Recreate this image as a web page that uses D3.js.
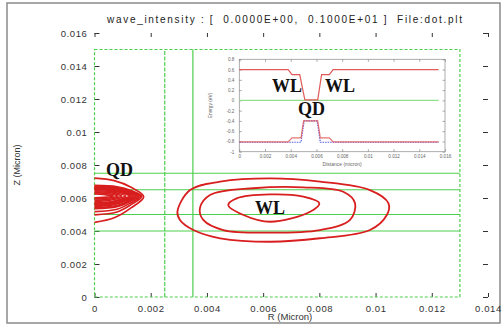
<!DOCTYPE html>
<html>
<head>
<meta charset="utf-8">
<script src="https://cdn.jsdelivr.net/npm/d3@7"></script>
<style>
  html, body { margin: 0; padding: 0; background: #fff; }
  svg { display: block; }
  text { font-family: "Liberation Sans", Arial, sans-serif; }
</style>
</head>
<body>
<svg id="svg" width="504" height="329"></svg>
<script>
// ---- data (micron units) ----
const xTicks = [0, 0.002, 0.004, 0.006, 0.008, 0.01, 0.012, 0.014];
const yTicks = [0, 0.002, 0.004, 0.006, 0.008, 0.01, 0.012, 0.014, 0.016];

// mesh boundaries (green)
const meshBox = [0, 0, 0.013, 0.015];            // x0, y0, x1, y1
const meshX = [0.0025, 0.0035];
const meshY = [0.004, 0.005, 0.0065, 0.0075];

// WL contours (closed)
const wlOuter = [[0.00295,0.00517],[0.00340,0.00648],[0.00447,0.00699],[0.00625,0.00719],[0.00802,0.00699],[0.00980,0.00648],[0.01046,0.00568],[0.01040,0.00497],[0.00980,0.00406],[0.00802,0.00356],[0.00625,0.00335],[0.00447,0.00356],[0.00352,0.00406],[0.00304,0.00467]];
const wlMiddle = [[0.00375,0.00538],[0.00411,0.00618],[0.00565,0.00659],[0.00743,0.00665],[0.00885,0.00638],[0.00927,0.00568],[0.00909,0.00467],[0.00802,0.00406],[0.00625,0.00390],[0.00458,0.00406],[0.00387,0.00467]];
const wlInner = [[0.00476,0.00558],[0.00506,0.00598],[0.00625,0.00622],[0.00743,0.00608],[0.00800,0.00568],[0.00767,0.00517],[0.00625,0.00456],[0.00530,0.00497]];

// QD contours (open, cut at r = 0)
const qdContours = [
  [[0,0.00720],[0.0007,0.00705],[0.0013,0.00665],[0.00175,0.00608],[0.0013,0.00540],[0.0007,0.00480],[0,0.00452]],
  [[0,0.00676],[0.0008,0.00668],[0.0013,0.00645],[0.00168,0.00610],[0.0013,0.00560],[0.0008,0.00515],[0,0.00498]],
  [[0,0.00672],[0.0008,0.00664],[0.00128,0.00642],[0.00163,0.00611],[0.00128,0.00570],[0.0008,0.00532],[0,0.00518]],
  [[0,0.00668],[0.0008,0.00660],[0.00125,0.00640],[0.00158,0.00612],[0.00125,0.00578],[0.0008,0.00548],[0,0.00535]],
  [[0,0.00665],[0.0008,0.00658],[0.0012,0.00639],[0.00153,0.00612],[0.0012,0.00582],[0.0008,0.00554],[0,0.00542]],
  [[0,0.00662],[0.0007,0.00656],[0.00115,0.00638],[0.00148,0.00612],[0.00115,0.00585],[0.0007,0.00560],[0,0.00548]],
  [[0,0.00659],[0.0007,0.00653],[0.0011,0.00636],[0.00142,0.00612],[0.0011,0.00588],[0.0007,0.00565],[0,0.00554]],
  [[0,0.00656],[0.0007,0.00650],[0.00105,0.00635],[0.00136,0.00612],[0.00105,0.00590],[0.0007,0.00570],[0,0.00560]],
  [[0,0.00653],[0.0006,0.00648],[0.0010,0.00633],[0.00130,0.00612],[0.0010,0.00592],[0.0006,0.00574],[0,0.00565]],
  [[0,0.00650],[0.0006,0.00645],[0.00095,0.00632],[0.00124,0.00612],[0.00095,0.00594],[0.0006,0.00578],[0,0.00570]],
  [[0,0.00644],[0.0005,0.00640],[0.00085,0.00628],[0.00110,0.00612],[0.00085,0.00597],[0.0005,0.00585],[0,0.00578]],
  [[0,0.00638],[0.0005,0.00634],[0.00075,0.00625],[0.00096,0.00612],[0.00075,0.00600],[0.0005,0.00592],[0,0.00586]],
  [[0,0.00632],[0.0004,0.00628],[0.00065,0.00621],[0.00082,0.00612],[0.00065,0.00603],[0.0004,0.00598],[0,0.00594]],
  [[0,0.00625],[0.0003,0.00622],[0.00050,0.00617],[0.00066,0.00612],[0.00050,0.00607],[0.0003,0.00604],[0,0.00601]]
];

// inset: band profile along distance (micron) vs energy (eV)
const insetXTicks = [0, 0.002, 0.004, 0.006, 0.008, 0.01, 0.012, 0.014, 0.016];
const insetYTicks = [0.8, 0.6, 0.4, 0.2, 0, -0.2, -0.4, -0.6, -0.8, -1];
const cbRed = [[0,0.6],[0.0038,0.6],[0.0041,0.5],[0.0047,0.5],[0.0051,0.01],[0.0061,0.01],[0.0064,0.5],[0.0070,0.5],[0.0073,0.6],[0.0155,0.6]];
const vbRed = [[0,-0.81],[0.0038,-0.81],[0.0041,-0.73],[0.0048,-0.73],[0.0050,-0.40],[0.0061,-0.40],[0.0063,-0.73],[0.0070,-0.73],[0.0073,-0.81],[0.0155,-0.81]];
const vbBlue = [[0,-0.815],[0.0048,-0.815],[0.00505,-0.40],[0.00605,-0.40],[0.0063,-0.815],[0.0155,-0.815]];
const zeroGreen = [[0,0],[0.0155,0]];

const mainLabels = [{t:"QD", x:0.00041, y:0.00733}, {t:"WL", x:0.00571, y:0.00506}];
const insetLabels = [{t:"WL", x:0.00254, y:0.17}, {t:"WL", x:0.00667, y:0.17}, {t:"QD", x:0.00457, y:-0.29}];

// ---- drawing ----
const svg = d3.select("svg");
const fmt = d => String(+d.toFixed(4));

// outer frame
svg.append("rect").attr("x", 7).attr("y", 3).attr("width", 493).attr("height", 320)
  .attr("fill", "none").attr("stroke", "#8a8a8a").attr("stroke-width", 1.5);

const x = d3.scaleLinear().domain([0, 0.014]).range([94.5, 488]);
const y = d3.scaleLinear().domain([0, 0.016]).range([297, 33]);

// title
svg.append("text").attr("x", 107).attr("y", 23)
  .attr("textLength", 355).attr("lengthAdjust", "spacing")
  .style("font-size", "10px").style("white-space", "pre").attr("fill", "#222")
  .text("wave_intensity : [  0.0000E+00,  0.1000E+01 ]  File:dot.plt");

// ticks on four sides, no domain line
function styleAxis(g) {
  g.select(".domain").remove();
  g.selectAll("line").attr("stroke", "#333");
  g.selectAll("text").attr("fill", "#333").style("font-size", "9.5px").style("letter-spacing", "0.6px");
}
svg.append("g").attr("transform", "translate(0,297)")
  .call(d3.axisBottom(x).tickValues(xTicks).tickFormat(fmt).tickSize(-4).tickPadding(8)).call(styleAxis);
svg.append("g").attr("transform", "translate(0,33)")
  .call(d3.axisTop(x).tickValues(xTicks).tickFormat("").tickSize(-4)).call(styleAxis);
svg.append("g").attr("transform", "translate(94.5,0)")
  .call(d3.axisLeft(y).tickValues(yTicks).tickFormat(fmt).tickSize(-5).tickPadding(7)).call(styleAxis);
svg.append("g").attr("transform", "translate(488,0)")
  .call(d3.axisRight(y).tickValues(yTicks).tickFormat("").tickSize(-5)).call(styleAxis);

svg.append("text").attr("x", 290).attr("y", 320).attr("text-anchor", "middle")
  .style("font-size", "9.5px").attr("fill", "#333").text("R (Micron)");
svg.append("text").attr("transform", "translate(20,165) rotate(-90)").attr("text-anchor", "middle")
  .style("font-size", "9px").attr("fill", "#333").text("Z (Micron)");

// mesh lines
const green = "#4ccf4c";
const mesh = svg.append("g");
meshY.forEach(v => {
  mesh.append("line").attr("x1", x(meshBox[0])).attr("x2", x(meshBox[2]))
    .attr("y1", y(v)).attr("y2", y(v)).attr("stroke", green).attr("stroke-width", 1.2);
});
meshX.forEach((v, i) => {
  mesh.append("line").attr("x1", x(v)).attr("x2", x(v))
    .attr("y1", y(meshBox[1])).attr("y2", y(meshBox[3])).attr("stroke", green).attr("stroke-width", 1.2)
    .attr("stroke-dasharray", i === 0 ? "4,1.5" : null);
});
mesh.append("rect").attr("x", x(meshBox[0])).attr("y", y(meshBox[3]))
  .attr("width", x(meshBox[2]) - x(meshBox[0])).attr("height", y(meshBox[1]) - y(meshBox[3]))
  .attr("fill", "none").attr("stroke", green).attr("stroke-width", 1.2).attr("stroke-dasharray", "3,2");

// contours
const red = "#d81e1e";
const closedLine = d3.line().x(d => x(d[0])).y(d => y(d[1])).curve(d3.curveCatmullRomClosed);
const openLine = d3.line().x(d => x(d[0])).y(d => y(d[1])).curve(d3.curveCatmullRom);
svg.append("g").selectAll("path").data([wlOuter, wlMiddle, wlInner]).join("path")
  .attr("d", closedLine).attr("fill", "none").attr("stroke", red).attr("stroke-width", 1.8);
svg.append("g").selectAll("path").data(qdContours).join("path")
  .attr("d", openLine).attr("fill", "none").attr("stroke", red).attr("stroke-width", 1.7);

svg.append("g").selectAll("text").data(mainLabels).join("text")
  .attr("x", d => x(d.x)).attr("y", d => y(d.y))
  .style("font-family", "'Liberation Serif', 'Times New Roman', serif")
  .style("font-weight", "bold").style("font-size", "18px").attr("fill", "#111").text(d => d.t);

// ---- inset ----
const ix = d3.scaleLinear().domain([0, 0.016]).range([239.3, 445]);
const iy = d3.scaleLinear().domain([-1, 0.8]).range([151.7, 59.3]);
const inset = svg.append("g");
inset.append("rect").attr("x", ix(0)).attr("y", iy(0.8)).attr("width", ix(0.016) - ix(0))
  .attr("height", iy(-1) - iy(0.8)).attr("fill", "#fff").attr("stroke", "#999").attr("stroke-width", 0.8);

function styleInset(g) {
  g.select(".domain").remove();
  g.selectAll("line").attr("stroke", "#888").attr("stroke-width", 0.7);
  g.selectAll("text").attr("fill", "#666").style("font-size", "4.6px");
}
inset.append("g").attr("transform", `translate(0,${iy(-1)})`)
  .call(d3.axisBottom(ix).tickValues(insetXTicks).tickFormat(fmt).tickSize(-2.5).tickPadding(3)).call(styleInset);
inset.append("g").attr("transform", `translate(0,${iy(0.8)})`)
  .call(d3.axisTop(ix).tickValues(insetXTicks).tickFormat("").tickSize(-2.5)).call(styleInset);
inset.append("g").attr("transform", `translate(${ix(0)},0)`)
  .call(d3.axisLeft(iy).tickValues(insetYTicks).tickFormat(fmt).tickSize(-2.5).tickPadding(5)).call(styleInset);
inset.append("g").attr("transform", `translate(${ix(0.016)},0)`)
  .call(d3.axisRight(iy).tickValues(insetYTicks).tickFormat("").tickSize(-2.5)).call(styleInset);

inset.append("text").attr("x", ix(0.008)).attr("y", 166).attr("text-anchor", "middle")
  .style("font-size", "5px").attr("fill", "#666").text("Distance (micron)");
inset.append("text").attr("transform", `translate(212,${iy(-0.1)}) rotate(-90)`).attr("text-anchor", "middle")
  .style("font-size", "4.8px").attr("fill", "#666").text("Energy (eV)");

const iline = d3.line().x(d => ix(d[0])).y(d => iy(d[1]));
inset.append("path").datum(zeroGreen).attr("d", iline).attr("fill", "none")
  .attr("stroke", "#8ee08e").attr("stroke-width", 1.1);
inset.append("path").datum(vbBlue).attr("d", iline).attr("fill", "none")
  .attr("stroke", "#5a5ae6").attr("stroke-width", 1.1).attr("stroke-dasharray", "1.5,1");
inset.append("path").datum(cbRed).attr("d", iline).attr("fill", "none")
  .attr("stroke", "#e05a5a").attr("stroke-width", 1.2);
inset.append("path").datum(vbRed).attr("d", iline).attr("fill", "none")
  .attr("stroke", "#e05a5a").attr("stroke-width", 1.2).attr("stroke-opacity", 0.85);

inset.append("g").selectAll("text").data(insetLabels).join("text")
  .attr("x", d => ix(d.x)).attr("y", d => iy(d.y))
  .style("font-family", "'Liberation Serif', 'Times New Roman', serif")
  .style("font-weight", "bold").style("font-size", "18px").attr("fill", "#111").text(d => d.t);
</script>
</body>
</html>
